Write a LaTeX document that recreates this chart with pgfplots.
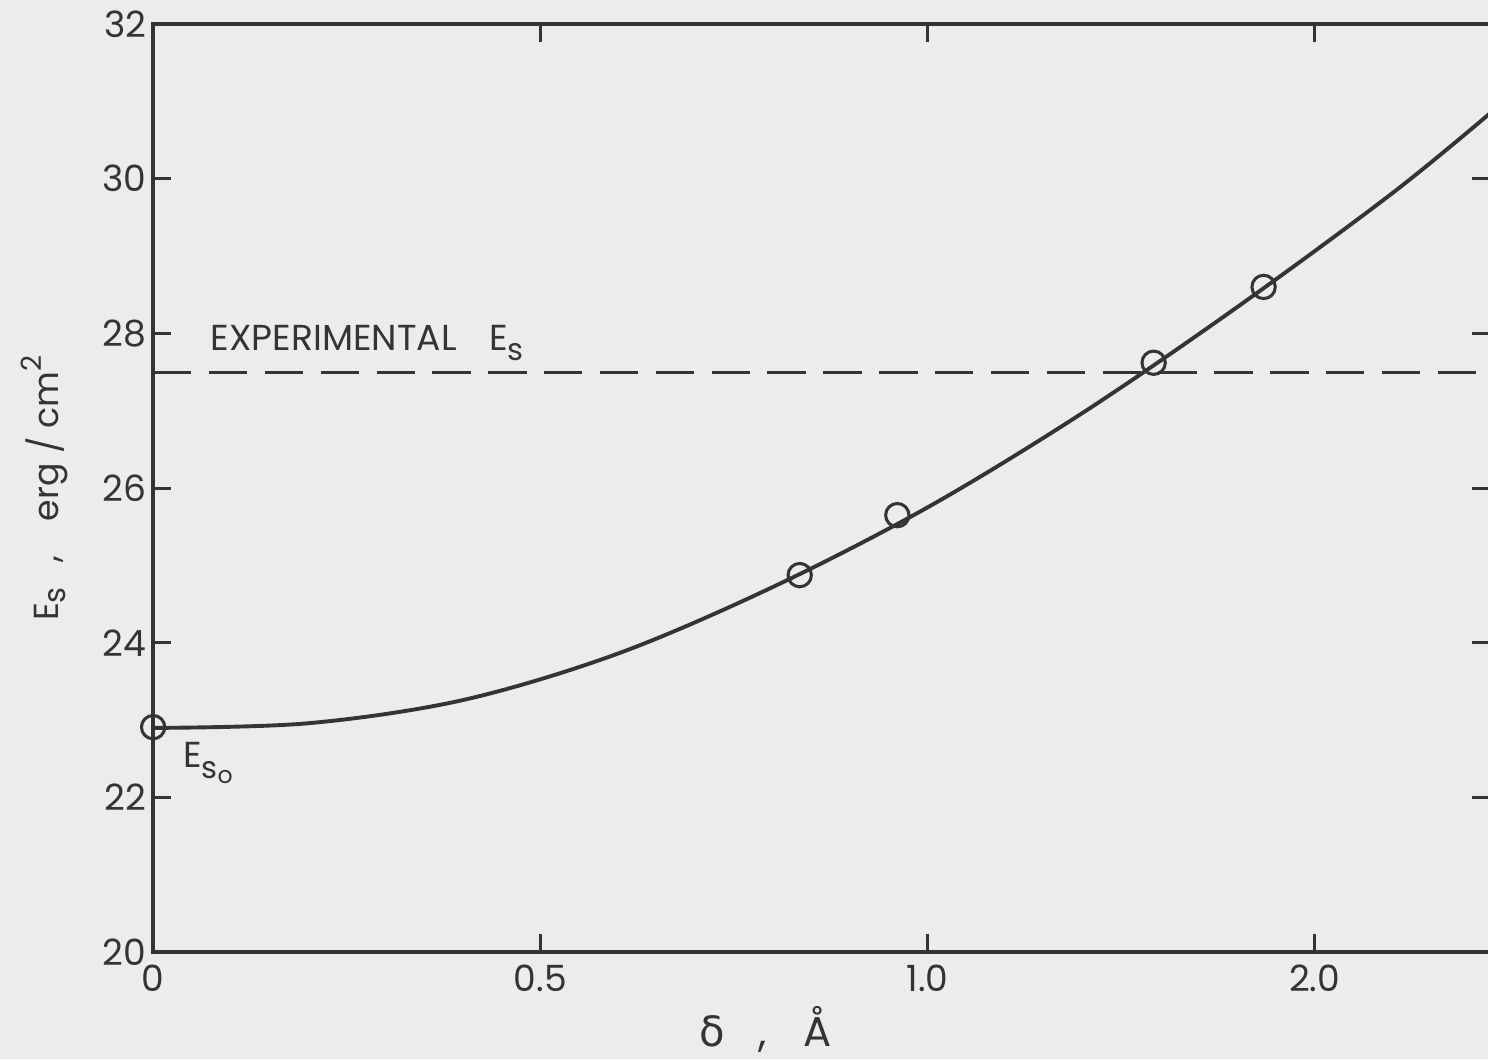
\documentclass[border=0pt]{standalone}
\usepackage{pgfplots}
\pgfplotsset{compat=1.18}
\usepackage{fontspec}
\setmainfont{Poppins}
\newfontfamily\greekfont{DejaVu Sans}
\usetikzlibrary{backgrounds}
\definecolor{paper}{RGB}{236,236,236}
\definecolor{ink}{RGB}{52,52,52}

\begin{document}
\begin{tikzpicture}
\begin{axis}[
  name=ax,
  scale only axis,
  width=481.3pt, height=334.1pt,
  xmin=0, xmax=1.727, ymin=20, ymax=32,
  clip=false,
  xtick={0,0.5,1,1.5}, xticklabels={0,0.5,1.0,2.0},
  ytick={20,22,...,32}, yticklabels={20,22,24,26,28,30,32},
  major tick length=6.5pt,
  tick style={ink, line width=1.1pt},
  axis line style={ink, line width=1.3pt},
  tick label style={ink, font=\fontsize{13}{15}\selectfont},
  xticklabel style={yshift=-1pt},
  yticklabel style={xshift=1pt},
  xlabel={{\greekfont δ}\hspace{0.8em},\hspace{0.9em}Å},
  xlabel style={at={(axis description cs:0.458,-0.102)}, anchor=base, ink,
                font=\fontsize{15}{18}\selectfont},
  ylabel={E\raisebox{-0.35ex}{\fontsize{11}{12}\selectfont s}\hspace{0.7em},\hspace{1.0em}erg / cm\raisebox{0.9ex}{\fontsize{10}{11}\selectfont 2}},
  ylabel style={at={(axis description cs:-0.081,0.5)}, anchor=center, ink,
                font=\fontsize{12.5}{14}\selectfont},
]
% measured surface energy
\addplot[ink, line width=1.1pt, dash pattern=on 13.8pt off 6.3pt]
  coordinates {(0,27.49) (1.727,27.49)};

% smooth fit through the computed values
\addplot[ink, line width=1.4pt, smooth, tension=0.55] coordinates {
  (0,22.90) (0.2,22.96) (0.4,23.26) (0.6,23.86) (0.8,24.72)
  (1.0,25.75) (1.2,26.97) (1.4,28.34) (1.6,29.81) (1.727,30.85)
};

% computed points
\addplot[only marks, mark=o, mark size=4.2pt,
         mark options={draw=ink, fill=paper, line width=1.1pt}] coordinates {
  (0,22.91) (0.835,24.875) (0.961,25.65) (1.292,27.62) (1.434,28.60)
};

\node[anchor=west, ink, font=\fontsize{13}{15}\selectfont]
  at (axis cs:0.062,27.88)
  {EXPERIMENTAL\hspace{0.9em}E\raisebox{-0.5ex}{\fontsize{11}{12}\selectfont s}};
\node[anchor=west, ink, font=\fontsize{13}{15}\selectfont]
  at (axis cs:0.026,22.45)
  {E\raisebox{-0.55ex}{\fontsize{11}{12}\selectfont s\raisebox{-0.3ex}{\fontsize{8.5}{9}\selectfont o}}};
\end{axis}
\pgfresetboundingbox
\path[use as bounding box] ([xshift=-55.1pt,yshift=-38.5pt]ax.south west)
  rectangle ([xshift=-0.9pt,yshift=8.6pt]ax.north east);
\begin{pgfonlayer}{background}
  \fill[paper] ([xshift=-55.1pt,yshift=-38.5pt]ax.south west)
    rectangle ([xshift=-0.9pt,yshift=8.6pt]ax.north east);
\end{pgfonlayer}
\end{tikzpicture}
\end{document}
